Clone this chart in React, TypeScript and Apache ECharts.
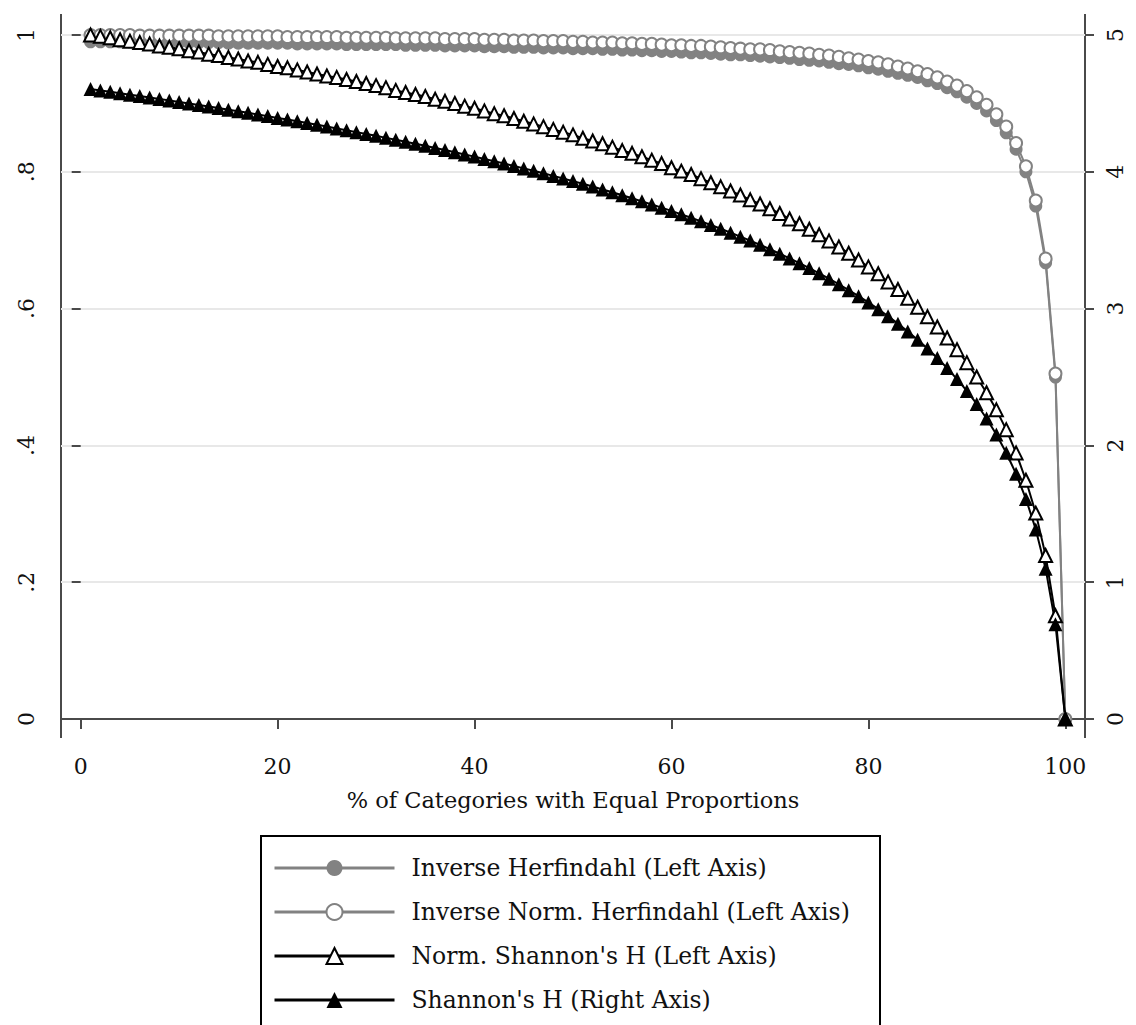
import React, { useEffect, useRef } from "react";
import * as echarts from "echarts";

const xValues = [
  1, 2, 3, 4, 5, 6, 7, 8, 9, 10, 11, 12, 13, 14, 15, 16, 17, 18, 19, 20,
  21, 22, 23, 24, 25, 26, 27, 28, 29, 30, 31, 32, 33, 34, 35, 36, 37, 38, 39, 40,
  41, 42, 43, 44, 45, 46, 47, 48, 49, 50, 51, 52, 53, 54, 55, 56, 57, 58, 59, 60,
  61, 62, 63, 64, 65, 66, 67, 68, 69, 70, 71, 72, 73, 74, 75, 76, 77, 78, 79, 80,
  81, 82, 83, 84, 85, 86, 87, 88, 89, 90, 91, 92, 93, 94, 95, 96, 97, 98, 99, 100,
];

const inverseHerfindahl = [
  0.990, 0.990, 0.990, 0.990, 0.990, 0.989, 0.989, 0.989, 0.989, 0.989,
  0.989, 0.989, 0.989, 0.989, 0.988, 0.988, 0.988, 0.988, 0.988, 0.988,
  0.988, 0.987, 0.987, 0.987, 0.987, 0.987, 0.986, 0.986, 0.986, 0.986,
  0.986, 0.986, 0.985, 0.985, 0.985, 0.985, 0.984, 0.984, 0.984, 0.984,
  0.983, 0.983, 0.983, 0.982, 0.982, 0.982, 0.981, 0.981, 0.981, 0.980,
  0.980, 0.980, 0.979, 0.979, 0.978, 0.978, 0.977, 0.977, 0.976, 0.976,
  0.975, 0.974, 0.974, 0.973, 0.972, 0.971, 0.971, 0.970, 0.969, 0.968,
  0.967, 0.966, 0.964, 0.963, 0.962, 0.960, 0.958, 0.957, 0.955, 0.952,
  0.950, 0.947, 0.944, 0.941, 0.938, 0.933, 0.929, 0.923, 0.917, 0.909,
  0.900, 0.889, 0.875, 0.857, 0.833, 0.800, 0.750, 0.667, 0.500, 0,
];

const inverseNormHerfindahl = [
  1.000, 1.000, 1.000, 1.000, 1.000, 0.999, 0.999, 0.999, 0.999, 0.999,
  0.999, 0.999, 0.999, 0.998, 0.998, 0.998, 0.998, 0.998, 0.998, 0.998,
  0.997, 0.997, 0.997, 0.997, 0.997, 0.997, 0.996, 0.996, 0.996, 0.996,
  0.996, 0.995, 0.995, 0.995, 0.995, 0.995, 0.994, 0.994, 0.994, 0.994,
  0.993, 0.993, 0.993, 0.992, 0.992, 0.992, 0.991, 0.991, 0.991, 0.990,
  0.990, 0.989, 0.989, 0.989, 0.988, 0.988, 0.987, 0.987, 0.986, 0.985,
  0.985, 0.984, 0.984, 0.983, 0.982, 0.981, 0.980, 0.979, 0.979, 0.978,
  0.976, 0.975, 0.974, 0.973, 0.971, 0.970, 0.968, 0.966, 0.964, 0.962,
  0.960, 0.957, 0.954, 0.951, 0.947, 0.943, 0.938, 0.932, 0.926, 0.918,
  0.909, 0.898, 0.884, 0.866, 0.842, 0.808, 0.758, 0.673, 0.505, 0,
];

const normShannon = [
  1.000, 0.998, 0.996, 0.993, 0.991, 0.989, 0.987, 0.984, 0.982, 0.980,
  0.977, 0.975, 0.972, 0.970, 0.967, 0.965, 0.962, 0.960, 0.957, 0.954,
  0.952, 0.949, 0.946, 0.943, 0.940, 0.938, 0.935, 0.932, 0.929, 0.926,
  0.923, 0.919, 0.916, 0.913, 0.910, 0.906, 0.903, 0.900, 0.896, 0.893,
  0.889, 0.885, 0.882, 0.878, 0.874, 0.870, 0.866, 0.862, 0.858, 0.854,
  0.849, 0.845, 0.841, 0.836, 0.831, 0.827, 0.822, 0.817, 0.812, 0.806,
  0.801, 0.796, 0.790, 0.784, 0.778, 0.772, 0.766, 0.759, 0.753, 0.746,
  0.739, 0.731, 0.724, 0.716, 0.708, 0.699, 0.690, 0.681, 0.671, 0.661,
  0.651, 0.639, 0.628, 0.615, 0.602, 0.588, 0.573, 0.557, 0.540, 0.521,
  0.500, 0.477, 0.452, 0.423, 0.389, 0.349, 0.301, 0.239, 0.151, 0,
];

const shannonH = [
  4.605, 4.595, 4.585, 4.575, 4.564, 4.554, 4.543, 4.533, 4.522, 4.511,
  4.500, 4.489, 4.477, 4.466, 4.454, 4.443, 4.431, 4.419, 4.407, 4.394,
  4.382, 4.369, 4.357, 4.344, 4.331, 4.317, 4.304, 4.290, 4.277, 4.263,
  4.248, 4.234, 4.220, 4.205, 4.190, 4.174, 4.159, 4.143, 4.127, 4.111,
  4.094, 4.078, 4.060, 4.043, 4.025, 4.007, 3.989, 3.970, 3.951, 3.932,
  3.912, 3.892, 3.871, 3.850, 3.829, 3.807, 3.784, 3.761, 3.738, 3.714,
  3.689, 3.664, 3.638, 3.611, 3.584, 3.555, 3.526, 3.497, 3.466, 3.434,
  3.401, 3.367, 3.332, 3.296, 3.258, 3.219, 3.178, 3.135, 3.091, 3.045,
  2.996, 2.944, 2.890, 2.833, 2.773, 2.708, 2.639, 2.565, 2.485, 2.398,
  2.303, 2.197, 2.079, 1.946, 1.792, 1.609, 1.386, 1.099, 0.693, 0,
];

const seriesNames = [
  "Inverse Herfindahl (Left Axis)",
  "Inverse Norm. Herfindahl (Left Axis)",
  "Norm. Shannon's H (Left Axis)",
  "Shannon's H (Right Axis)",
];

const xTicks = [0, 20, 40, 60, 80, 100];
const leftTickLabels = ["0", ".2", ".4", ".6", ".8", "1"];
const rightTickLabels = ["0", "1", "2", "3", "4", "5"];
const xTitle = "% of Categories with Equal Proportions";

const FONT = "DejaVu Serif";
const GRAY = "#828282";
const AXIS = "#4a4a4a";

function pairs(vals: number[]) {
  return xValues.map((x, i) => [x, vals[i]]);
}

export default function App() {
  const ref = useRef<HTMLDivElement>(null);
  useEffect(() => {
    if (!ref.current) return;
    const chart = echarts.init(ref.current, null, { renderer: "svg" });
    const option: any = {
      animation: false,
      backgroundColor: "#ffffff",
      grid: { left: 61, width: 1024, top: 35, height: 684 },
      xAxis: {
        type: "value",
        min: -2,
        max: 102,
        offset: 19,
        name: xTitle,
        nameLocation: "middle",
        nameGap: 50,
        nameTextStyle: { fontFamily: FONT, fontSize: 22.5, color: "#111" },
        axisLine: { show: true, lineStyle: { color: AXIS, width: 2 } },
        axisTick: { show: true, customValues: xTicks, length: 10, lineStyle: { color: AXIS, width: 2 } },
        axisLabel: { customValues: xTicks, margin: 17, fontFamily: FONT, fontSize: 22, color: "#111" },
        splitLine: { show: false },
      },
      yAxis: [
        {
          type: "value",
          min: 0,
          max: 1,
          interval: 0.2,
          position: "left",
          axisLine: { show: false },
          axisTick: { show: true, length: 9, lineStyle: { color: AXIS, width: 2 } },
          axisLabel: {
            rotate: 90,
            margin: 24,
            fontFamily: FONT,
            fontSize: 22,
            color: "#111",
            formatter: (v: number) => leftTickLabels[Math.round(v * 5)],
          },
          splitLine: { show: true, lineStyle: { color: "#e8e8e8", width: 2 } },
        },
        {
          type: "value",
          min: 0,
          max: 5,
          interval: 1,
          position: "right",
          axisLine: { show: false },
          axisTick: { show: true, length: 9, lineStyle: { color: AXIS, width: 2 } },
          axisLabel: {
            rotate: 90,
            margin: 19,
            fontFamily: FONT,
            fontSize: 22,
            color: "#111",
            formatter: (v: number) => rightTickLabels[Math.round(v)],
          },
          splitLine: { show: false },
        },
      ],
      legend: {
        orient: "vertical",
        left: 273,
        top: 856,
        padding: 0,
        itemWidth: 120,
        itemHeight: 20,
        itemGap: 20,
        data: seriesNames,
        lineStyle: { width: 3 },
        textStyle: { fontFamily: FONT, fontSize: 23.5, color: "#111", padding: [0, 0, 0, 12] },
      },
      graphic: [
        { type: "line", shape: { x1: 61, y1: 14, x2: 61, y2: 738 }, style: { stroke: AXIS, lineWidth: 2 } },
        { type: "line", shape: { x1: 1085, y1: 14, x2: 1085, y2: 738 }, style: { stroke: AXIS, lineWidth: 2 } },
        {
          type: "rect",
          z: 0,
          shape: { x: 261, y: 836, width: 619, height: 400 },
          style: { fill: "none", stroke: "#000", lineWidth: 2 },
        },
      ],
      series: [
        {
          name: seriesNames[0],
          type: "line",
          yAxisIndex: 0,
          data: pairs(inverseHerfindahl),
          symbol: "circle",
          symbolSize: 13,
          lineStyle: { color: GRAY, width: 2 },
          itemStyle: { color: GRAY, borderWidth: 0 },
        },
        {
          name: seriesNames[1],
          type: "line",
          yAxisIndex: 0,
          data: pairs(inverseNormHerfindahl),
          symbol: "emptyCircle",
          symbolSize: 12,
          lineStyle: { color: GRAY, width: 2 },
          itemStyle: { color: GRAY, borderWidth: 2.5 },
        },
        {
          name: seriesNames[2],
          type: "line",
          yAxisIndex: 0,
          data: pairs(normShannon),
          symbol: "emptyTriangle",
          symbolSize: 13,
          lineStyle: { color: "#000", width: 2 },
          itemStyle: { color: "#000", borderWidth: 2 },
        },
        {
          name: seriesNames[3],
          type: "line",
          yAxisIndex: 1,
          data: pairs(shannonH),
          symbol: "triangle",
          symbolSize: 14,
          lineStyle: { color: "#000", width: 2 },
          itemStyle: { color: "#000", borderWidth: 0 },
        },
      ],
    };
    chart.setOption(option);
    return () => chart.dispose();
  }, []);
  return (
    <div
      ref={ref}
      style={{ position: "fixed", left: 0, top: 0, width: 1136, height: 1025 }}
    />
  );
}
